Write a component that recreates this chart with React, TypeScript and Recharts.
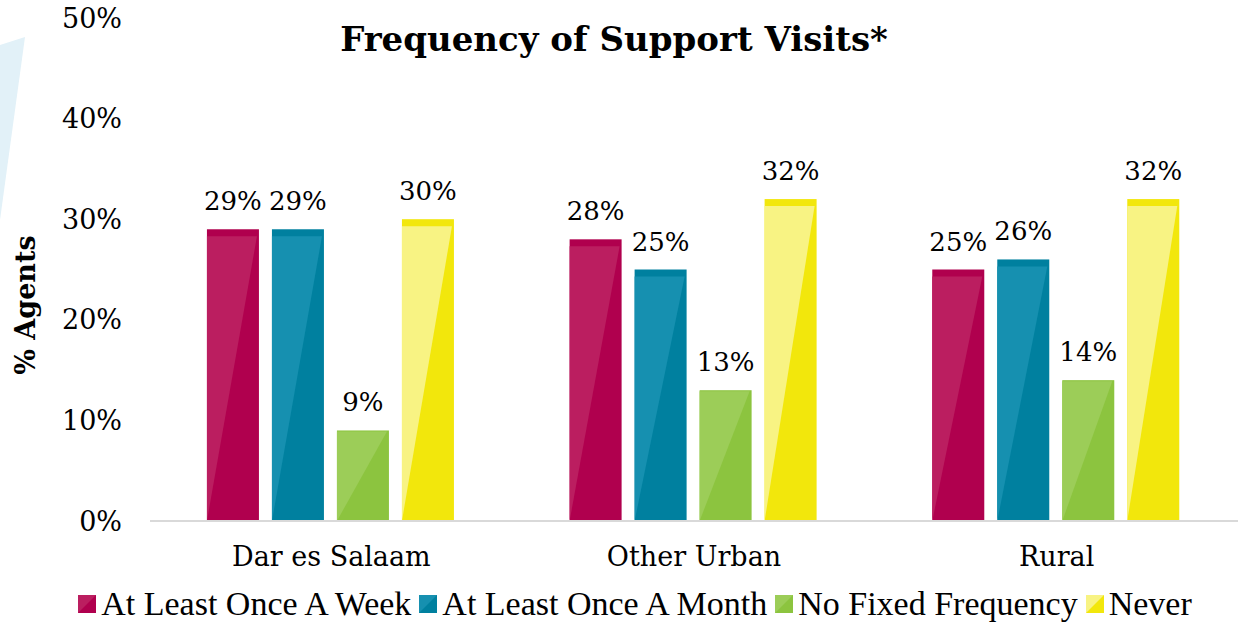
import { BarChart, Bar, XAxis, YAxis, Legend, LabelList } from "recharts";

const regions = ["Dar es Salaam", "Other Urban", "Rural"];
const weekly = [29, 28, 25];
const monthly = [29, 25, 26];
const noFixed = [9, 13, 14];
const never = [30, 32, 32];
const yTicks = [0, 10, 20, 30, 40, 50];

const data = regions.map((name, i) => ({
  name,
  weekly: weekly[i],
  monthly: monthly[i],
  noFixed: noFixed[i],
  never: never[i],
}));

const SERIES = [
  { key: "weekly", name: "At Least Once A Week", color: "#B0004E", light: "#BB1E60", band: 7 },
  { key: "monthly", name: "At Least Once A Month", color: "#00809F", light: "#1690B0", band: 7 },
  { key: "noFixed", name: "No Fixed Frequency", color: "#8CC43F", light: "#9CCD58", band: 1 },
  { key: "never", name: "Never", color: "#F2E70C", light: "#F8F383", band: 7 },
];

const NUM_FONT = "DejaVu Serif";
const TEXT_FONT = "Liberation Serif";

// bar with a darker top band and lighter diagonal sheen
const makeShape = (color: string, light: string, band: number) => (props: any) => {
  const { x, y, width, height } = props;
  if (height <= 0) return <g />;
  return (
    <g>
      <rect x={x} y={y} width={width} height={height} fill={color} />
      <polygon
        points={`${x},${y + band} ${x + width - 2},${y + band} ${x},${y + height}`}
        fill={light}
      />
    </g>
  );
};

const renderLegend = () => (
  <div
    style={{
      display: "flex",
      justifyContent: "center",
      alignItems: "center",
      color: "#000",
      paddingLeft: 40,
    }}
  >
    {SERIES.map((s) => (
      <div key={s.key} style={{ display: "flex", alignItems: "center", marginRight: 8 }}>
        <svg width={18} height={18} style={{ marginRight: 5 }}>
          <rect width={18} height={18} fill={s.color} />
          <polygon points="0,18 18,0 0,0" fill={s.light} />
        </svg>
        <span style={{ fontFamily: TEXT_FONT, fontSize: 34, lineHeight: "38px" }}>{s.name}</span>
      </div>
    ))}
  </div>
);

export default function App() {
  return (
    <div style={{ position: "absolute", left: 0, top: 0, width: 1240, height: 627, background: "#fff" }}>
      <svg width={40} height={240} style={{ position: "absolute", left: 0, top: 0 }}>
        <polygon points="0,45 25,37 0,220" fill="#E2F1F8" />
      </svg>
      <div
        style={{
          position: "absolute",
          left: 0,
          top: 19,
          width: 1228,
          textAlign: "center",
          fontFamily: NUM_FONT,
          fontWeight: "bold",
          fontSize: 34,
          color: "#000",
        }}
      >
        Frequency of Support Visits*
      </div>
      <div
        style={{
          position: "absolute",
          left: 25,
          top: 305,
          transform: "translate(-50%, -50%) rotate(-90deg)",
          fontFamily: NUM_FONT,
          fontWeight: "bold",
          fontSize: 27,
          whiteSpace: "nowrap",
        }}
      >
        % Agents
      </div>
      <BarChart
        width={1240}
        height={627}
        data={data}
        margin={{ top: 18, right: 2, left: 0, bottom: 0 }}
        barCategoryGap="15.7%"
        barGap={13}
        style={{ position: "absolute", left: 0, top: 0 }}
      >
        <XAxis
          dataKey="name"
          tickLine={false}
          axisLine={{ stroke: "#D9D9D9", strokeWidth: 2 }}
          tick={{ fill: "#000", fontFamily: NUM_FONT, fontSize: 27 }}
          tickMargin={20}
          height={64}
        />
        <YAxis
          domain={[0, 50]}
          ticks={yTicks}
          width={150}
          axisLine={false}
          tickLine={false}
          tickMargin={22}
          tickFormatter={(v: number) => `${v}%`}
          tick={{ fill: "#000", fontFamily: NUM_FONT, fontSize: 27 }}
        />
        <Legend verticalAlign="bottom" height={42} content={renderLegend} />
        {SERIES.map((s) => (
          <Bar
            key={s.key}
            dataKey={s.key}
            name={s.name}
            fill={s.color}
            isAnimationActive={false}
            shape={makeShape(s.color, s.light, s.band)}
          >
            <LabelList
              dataKey={s.key}
              position="top"
              offset={19}
              formatter={(v: any) => `${v}%`}
              style={{ fill: "#000", fontFamily: NUM_FONT, fontSize: 26 }}
            />
          </Bar>
        ))}
      </BarChart>
    </div>
  );
}
